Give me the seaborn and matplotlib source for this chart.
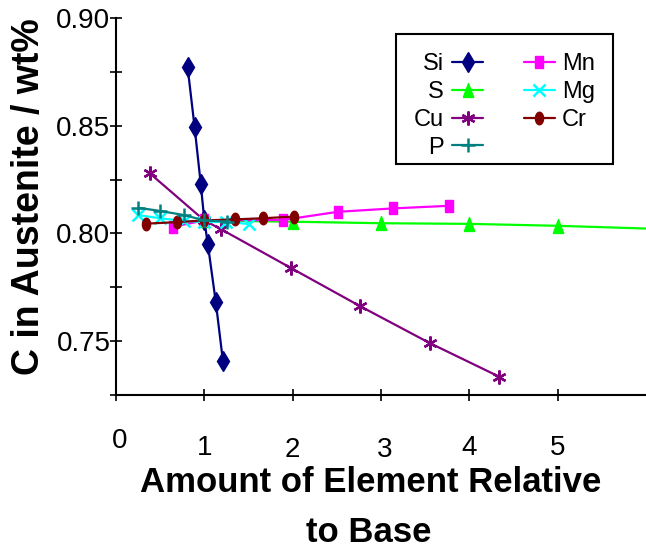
import numpy as np
import matplotlib
matplotlib.use("Agg")
import matplotlib.pyplot as plt
from matplotlib.patches import Rectangle
from matplotlib.ticker import MultipleLocator
from matplotlib.transforms import ScaledTranslation
import seaborn as sns

# ---- data ----
si_x = [0.81, 0.89, 0.96, 1.00, 1.04, 1.13, 1.21]
si_y = [0.8775, 0.8493, 0.8228, 0.806, 0.7949, 0.7679, 0.7408]
s_x = [1, 2, 3, 4, 5, 6.1]
s_y = [0.806, 0.8054, 0.8047, 0.8044, 0.8035, 0.8021]
cu_x = [0.38, 1.00, 1.19, 1.98, 2.76, 3.55, 4.34]
cu_y = [0.828, 0.806, 0.8019, 0.7839, 0.7662, 0.749, 0.7333]
p_x = [0.25, 0.50, 0.77, 1.00, 1.26]
p_y = [0.8119, 0.8104, 0.8085, 0.806, 0.8054]
mn_x = [0.65, 1.00, 1.89, 2.51, 3.14, 3.77]
mn_y = [0.8031, 0.806, 0.8062, 0.8100, 0.8116, 0.8128]
mg_x = [0.25, 0.50, 0.77, 1.00, 1.25, 1.51]
mg_y = [0.8085, 0.807, 0.8057, 0.8052, 0.8054, 0.8043]
cr_x = [0.34, 0.69, 1.00, 1.35, 1.66, 2.02]
cr_y = [0.8045, 0.8052, 0.806, 0.8065, 0.807, 0.8078]

x_ticks = [0, 1, 2, 3, 4, 5]
y_ticks = [0.75, 0.80, 0.85, 0.90]
y_tick_labels = ["0.75", "0.80", "0.85", "0.90"]

sns.set_style("white")
plt.rcParams["font.family"] = ["Liberation Sans", "DejaVu Sans"]
for k in ["text.color", "axes.labelcolor", "xtick.color", "ytick.color",
          "axes.edgecolor"]:
    plt.rcParams[k] = "black"

W, H = 646, 548
fig = plt.figure(figsize=(W / 100, H / 100), dpi=100)
ax = fig.add_axes([116 / W, 153.4 / H, 530 / W, 376.3 / H])

t = np.linspace(0, 2 * np.pi, 40)
ellipse = list(zip(0.65 * np.cos(t), np.sin(t)))
tall_rect = [(-0.72, -1), (0.72, -1), (0.72, 1), (-0.72, 1), (-0.72, -1)]
tall_tri = [(-0.75, -1), (0.75, -1), (0, 1), (-0.75, -1)]

series = {
    "Si": (si_x, si_y, "#000080", "d", 10, 1.0),
    "S": (s_x, s_y, "#00FF00", tall_tri, 10, 1.0),
    "Cu": (cu_x, cu_y, "#800080", (6, 2, 0), 10, 1.7),
    "Mn": (mn_x, mn_y, "#FF00FF", tall_rect, 8, 1.0),
    "Mg": (mg_x, mg_y, "#00FFFF", "x", 8, 1.8),
    "Cr": (cr_x, cr_y, "#800000", ellipse, 9, 1.0),
    "P": (p_x, p_y, "#008080", "+", 10, 1.8),
}

for name, (xs, ys, col, mk, ms, mew) in series.items():
    sns.lineplot(x=xs, y=ys, ax=ax, color=col, marker=mk, markersize=ms,
                 markeredgecolor=col, markerfacecolor=col, markeredgewidth=mew,
                 linewidth=1.6, label=name, estimator=None, sort=False)

ax.set_xlim(0, 6)
ax.set_ylim(0.725, 0.90)
for side in ["top", "right"]:
    ax.spines[side].set_visible(False)
for side in ["left", "bottom"]:
    ax.spines[side].set_linewidth(1.5)
    ax.spines[side].set_color("black")

ax.set_xticks(x_ticks)
ax.set_xticklabels([str(v) for v in x_ticks])
ax.set_yticks(y_ticks)
ax.set_yticklabels(y_tick_labels)
ax.yaxis.set_minor_locator(MultipleLocator(0.025))
ax.tick_params(axis="both", which="both", direction="inout", length=8,
               width=1.2, color="black", labelcolor="black",
               left=True, bottom=True)
ax.tick_params(axis="x", labelsize=20, pad=25)
ax.tick_params(axis="y", labelsize=20, pad=0)
ax.set_xlabel("")
ax.set_ylabel("")
ax.grid(False)

# slight stagger of the x tick labels, as in the reference
offs = [(4, 7), (0, 0), (0, -2), (4, -2), (0, 0), (0, 0)]
for lbl, (dx, dy) in zip(ax.get_xticklabels(), offs):
    lbl.set_transform(lbl.get_transform() +
                      ScaledTranslation(dx / 100, dy / 100, fig.dpi_scale_trans))

# axis titles
fig.text(29 / W, 1 - 197 / H, "C in Austenite / wt%", rotation=90,
         ha="center", va="center", fontsize=27, fontweight="bold")
fig.text(371 / W, 1 - 492 / H, "Amount of Element Relative",
         ha="center", va="baseline", fontsize=25, fontweight="bold")
fig.text(369 / W, 1 - 542 / H, "to Base",
         ha="center", va="baseline", fontsize=25, fontweight="bold")

# legend: framed box with two columns
if ax.legend_:
    ax.legend_.remove()
handles, labels = ax.get_legend_handles_labels()
hmap = dict(zip(labels, handles))
box = Rectangle((396 / W, 1 - 164 / H), (613 - 396) / W, (164 - 34) / H,
                transform=fig.transFigure, facecolor="white",
                edgecolor="black", linewidth=1.5, zorder=4)
fig.patches.append(box)

leg1 = fig.legend([hmap[k] for k in ["Si", "S", "Cu", "P"]],
                  ["Si", "S", "Cu", "P"], loc="upper left",
                  bbox_to_anchor=(414 / W, 1 - 53 / H), frameon=False,
                  markerfirst=False, fontsize=17, handlelength=1.3,
                  handletextpad=0.35, labelspacing=0.25, borderpad=0,
                  borderaxespad=0)
leg2 = fig.legend([hmap[k] for k in ["Mn", "Mg", "Cr"]],
                  ["Mn", "Mg", "Cr"], loc="upper left",
                  bbox_to_anchor=(524 / W, 1 - 53 / H), frameon=False,
                  markerfirst=True, fontsize=17, handlelength=1.3,
                  handletextpad=0.3, labelspacing=0.25, borderpad=0,
                  borderaxespad=0)
leg1.set_zorder(5)
leg2.set_zorder(5)

fig.savefig("out.png", dpi=100)
